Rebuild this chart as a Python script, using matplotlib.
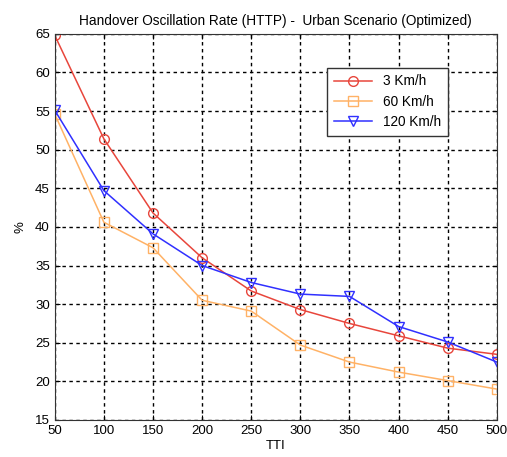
import matplotlib
matplotlib.use("Agg")
import matplotlib.pyplot as plt

plt.rcParams['font.family'] = ['Liberation Sans', 'DejaVu Sans']

tti = [50, 100, 150, 200, 250, 300, 350, 400, 450, 500]
rate_3 = [64.8, 51.4, 41.8, 36.0, 31.7, 29.3, 27.5, 25.9, 24.3, 23.5]
rate_60 = [54.6, 40.6, 37.3, 30.5, 29.1, 24.7, 22.5, 21.2, 20.1, 19.0]
rate_120 = [55.1, 44.7, 39.1, 35.0, 32.8, 31.3, 31.0, 27.1, 25.1, 22.5]

fig = plt.figure(figsize=(5.07, 4.57), dpi=100)
ax = fig.add_axes([0.108, 0.081, 0.872, 0.845])

ax.plot(tti, rate_3, color='#e8463c', marker='o', ms=7, mfc='none', lw=1.1, label='3 Km/h')
ax.plot(tti, rate_60, color='#ffb266', marker='s', ms=7, mfc='none', lw=1.1, label='60 Km/h')
ax.plot(tti, rate_120, color='#3030ff', marker='v', ms=7, mfc='none', lw=1.1, label='120 Km/h')

ax.set_xlim(50, 500)
ax.set_ylim(15, 65)
ax.set_xticks(range(50, 501, 50))
ax.set_yticks(range(15, 66, 5))
ax.grid(True, color='black', linestyle=(0, (2.5, 2.5)), linewidth=1.0)
ax.tick_params(direction='in', top=True, right=True, labelsize=9.5)
ax.set_xlabel('TTI', fontsize=9.5, labelpad=2)
ax.set_ylabel('%', fontsize=9.5, labelpad=6)
ax.set_title('Handover Oscillation Rate (HTTP) -  Urban Scenario (Optimized)', fontsize=9.8, pad=6)
for s in ax.spines.values():
    s.set_color('#333333')

leg = ax.legend(loc='upper left', bbox_to_anchor=(0.6, 0.93), fontsize=9.8, fancybox=False,
                framealpha=1, edgecolor='#333333', handlelength=2.8, borderpad=0.5, labelspacing=0.45)
leg.get_frame().set_linewidth(1.0)

fig.savefig('out.png', dpi=100)
